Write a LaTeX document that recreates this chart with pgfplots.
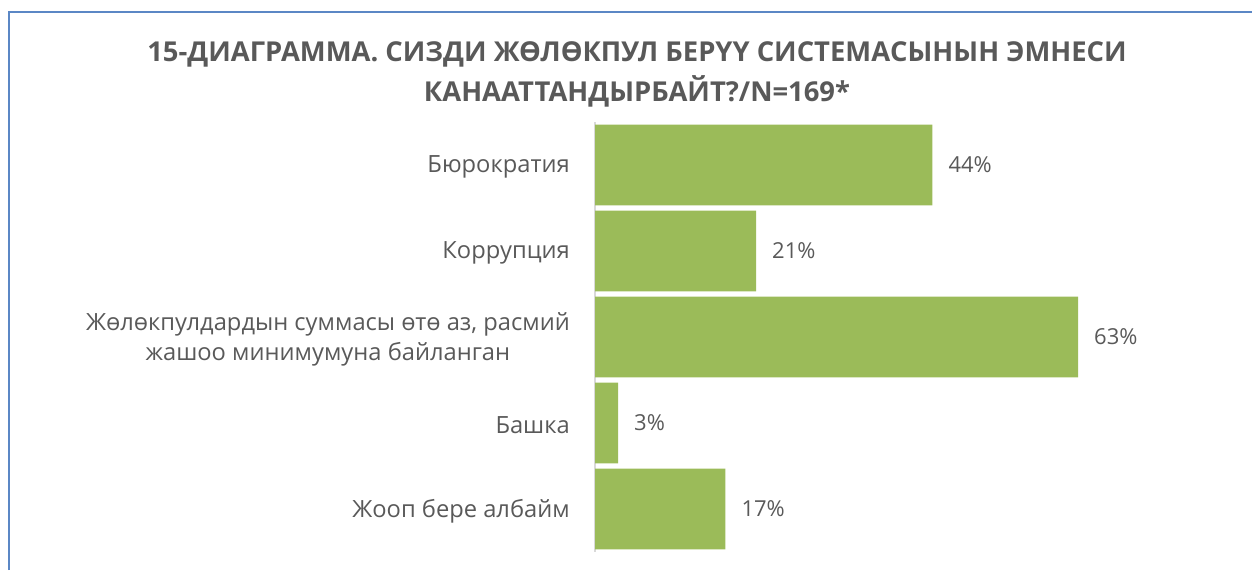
\documentclass[border=0pt]{standalone}
\usepackage{pgfplots}
\pgfplotsset{compat=1.18}
\usepackage{fontspec}
\setmainfont{Open Sans}

\definecolor{bargreen}{HTML}{9BBB59}
\definecolor{txtgray}{HTML}{595959}
\definecolor{axgray}{HTML}{D9D9D9}
\definecolor{frameblue}{HTML}{5B87C5}

\begin{document}
\begin{tikzpicture}[x=1pt,y=1pt]
\path[use as bounding box] (0,0) rectangle (1252,570);

% outer frame (only left and top visible)
\draw[frameblue, line width=2.5pt] (9,0) -- (9,558) -- (1252,558);

% title
\node[anchor=base, font=\fontsize{27.4}{40}\selectfont\bfseries, text=txtgray, inner sep=0pt]
  at (637,508) {15-ДИАГРАММА. СИЗДИ ЖӨЛӨКПУЛ БЕРҮҮ СИСТЕМАСЫНЫН ЭМНЕСИ};
\node[anchor=base, font=\fontsize{27.4}{40}\selectfont\bfseries, text=txtgray, inner sep=0pt]
  at (637,468) {КАНААТТАНДЫРБАЙТ?/N=169*};

\begin{axis}[
    at={(595pt,18pt)}, anchor=south west,
    scale only axis,
    width=575pt, height=430pt,
    xbar, bar width=0.94,
    xmin=0, xmax=75,
    ymin=-0.5, ymax=4.5,
    y dir=reverse,
    axis lines*=left,
    x axis line style={draw=none},
    y axis line style={draw=axgray, line width=1.5pt, -},
    xtick=\empty,
    ytick={0,1,2,3,4},
    yticklabels={Бюрократия, Коррупция, {Жөлөкпулдардын суммасы өтө аз, расмий\\жашоо минимумуна байланган}, Башка, Жооп бере албайм},
    major tick length=0pt,
    yticklabel style={font=\fontsize{23.7}{30}\selectfont, text=txtgray, align=center, inner sep=0pt, xshift=-25pt, yshift=-2pt},
    /pgf/number format/assume math mode=true,
    nodes near coords={\pgfmathprintnumber{\pgfplotspointmeta}\%},
    nodes near coords style={font=\fontsize{22}{28}\selectfont, text=txtgray, anchor=west, inner sep=0pt, xshift=16pt},
    clip=false,
]
\addplot[fill=bargreen, draw=none] coordinates {
    (44,0)
    (21,1)
    (63,2)
    (3,3)
    (17,4)
};
\end{axis}
\end{tikzpicture}
\end{document}
